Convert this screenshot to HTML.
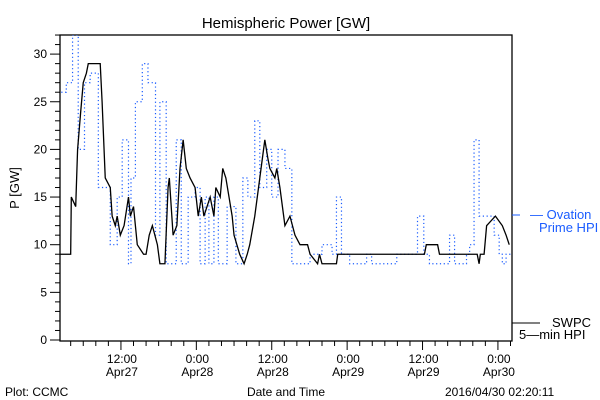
<!DOCTYPE html>
<html><head><meta charset="utf-8"><style>
body{margin:0;background:#fff;}
svg{display:block;font-family:"Liberation Sans",sans-serif;}
</style></head><body>
<svg id="c" width="600" height="400" viewBox="0 0 600 400">
<text x="286" y="28" font-size="15" text-anchor="middle">Hemispheric Power [GW]</text>
<text transform="translate(19,188) rotate(-90)" font-size="13" text-anchor="middle">P [GW]</text>
<text x="5" y="396" font-size="12">Plot: CCMC</text>
<text x="286" y="396" font-size="12" text-anchor="middle">Date and Time</text>
<text x="445" y="396" font-size="12">2016/04/30 02:20:11</text>
<g id="axes"></g>
<g id="series"></g>
<line x1="512" y1="215" x2="520" y2="215" stroke="#1a5cff"/>
<text x="530" y="219" font-size="13" fill="#1a5cff">— Ovation</text>
<text x="539" y="232" font-size="13" fill="#1a5cff">Prime HPI</text>
<line x1="512" y1="323" x2="540" y2="323" stroke="#000"/>
<text x="552" y="327" font-size="13">SWPC</text>
<text x="519" y="339" font-size="13">5—min HPI</text>
</svg>
<script>
const swpcHours=[0,2.1,2.2,2.9,3.2,3.7,4.1,4.6,4.9,6.8,7.1,7.6,8.4,8.7,9.2,9.5,10.0,10.6,11.3,11.6,12.1,12.7,13.7,14.1,14.6,15.1,15.9,16.3,17.1,17.6,17.8,18.4,19.0,19.5,20.0,20.5,21.1,21.9,22.4,22.9,23.3,24.3,24.9,25.2,25.9,26.3,26.8,27.3,27.8,28.1,29.0,29.7,30.2,30.6,31.4,32.2,33.0,33.5,33.8,34.6,34.9,35.4,36.2,37.0,37.8,38.6,39.8,40.2,41.4,41.7,42.1,44.4,44.6,58.4,58.7,60.5,60.8,66.8,67.1,67.3,67.9,68.3,69.7,70.8,71.4,71.9];
const swpcValues=[9,9,15,14,20,24,27,28,29,29,25,17,16,13,12,13,11,12,15,13,14,10,9,9,11,12,10,8,8,16,17,11,12,18,21,18,17,16,13,15,13,15,13,16,15,18,17,15,13,11,9,8,9,10,13,17,21,19,18,17,18,16,12,13,11,10,10,9,8,9,8,8,9,9,10,10,9,9,8,9,9,12,13,12,11,10];
const ovHours=[0,1.4,2.4,3.3,4.3,5.2,6.5,8.4,9.5,10.3,11.3,11.7,12.4,13.5,14.4,15.6,16.3,17.3,18.9,19.7,20.8,21.9,22.7,23.5,24.1,24.9,25.6,27.0,28.4,29.5,30.3,31.4,32.2,33.3,34.1,35.1,36.2,37.3,40.2,42.1,43.7,44.4,45.2,46.5,49.2,50.0,54.0,57.3,58.3,59.2,62.4,63.2,65.1,65.6,66.3,67.1,69.5,70.3,70.8,71.4];
const ovValues=[26,27,32,20,27,28,16,10,15,21,8,17,25,29,27,11,25,8,21,8,15,16,8,15,8,15,8,14,8,17,15,23,16,20,15,20,18,8,9,10,9,15,9,8,9,8,9,13,9,8,11,8,9,10,21,13,11,9,8,9];
const yTicks=[0,5,10,15,20,25,30];
const xTickHours=[10.1,22.1,34.1,46.1,58.1,70.1];
const xTickLabels=[["12:00","Apr27"],["0:00","Apr28"],["12:00","Apr28"],["0:00","Apr29"],["12:00","Apr29"],["0:00","Apr30"]];
const tEnd=72.1, yMax=32;
const L=60,R=512,T=35,B=341;
const X=t=>L+(t-0.4)*6.283;
const Y=v=>340-v*9.53;
const NS="http://www.w3.org/2000/svg";
const ax=document.getElementById('axes'), se=document.getElementById('series');
function mk(tag,at,parent){const e=document.createElementNS(NS,tag);for(const k in at)e.setAttribute(k,at[k]);parent.appendChild(e);return e;}
const fr=mk('rect',{x:L,y:T,width:R-L,height:B-T,fill:'none',stroke:'#000','stroke-width':1.3},ax);


for(let v=0;v<=yMax;v++){
  const maj=v%5===0;
  const tk=mk('line',{x1:maj?L-10:L-5,x2:L,y1:Y(v),y2:Y(v),stroke:'#000'},ax);
  
  
}
yTicks.forEach(v=>{
  const t=mk('text',{x:L-13,y:Y(v)+4,'font-size':12,'text-anchor':'end'},ax);t.textContent=v;
  
  
});
for(let h=0.1;h<=tEnd;h+=2){
  const x=X(h); if(x<L||x>R)continue;
  const maj=xTickHours.some(m=>Math.abs(m-h)<0.01);
  const tk=mk('line',{x1:x,x2:x,y1:B,y2:maj?B+9:B+5,stroke:'#000'},ax);
  
  
}
xTickHours.forEach((h,i)=>{
  const g=mk('text',{x:X(h)+1,'font-size':12,'text-anchor':'middle'},ax);
  
  
  const a=mk('tspan',{x:X(h)+1,y:363},g);a.textContent=xTickLabels[i][0];
  const b=mk('tspan',{x:X(h)+1,y:376},g);b.textContent=xTickLabels[i][1];
});
mk('clipPath',{id:'pc'},se).appendChild(Object.assign(document.createElementNS(NS,'rect'),{})).setAttribute('x',L);
const cr=se.querySelector('clipPath rect');cr.setAttribute('y',T);cr.setAttribute('width',R-L);cr.setAttribute('height',B-T);
let d='';
ovHours.forEach((h,i)=>{const nx=i+1<ovHours.length?ovHours[i+1]:tEnd;d+=(i?'L':'M')+X(h)+','+Y(ovValues[i])+'L'+X(nx)+','+Y(ovValues[i]);});
const ov=mk('path',{d:d,fill:'none',stroke:'#1a5cff','stroke-width':1.2,'stroke-dasharray':'1.2,2.6','clip-path':'url(#pc)'},se);


const pts=swpcHours.map((h,i)=>X(h)+','+Y(swpcValues[i])).join(' ');
const sw=mk('polyline',{points:pts,fill:'none',stroke:'#000','stroke-width':1.3,'clip-path':'url(#pc)'},se);


</script>
</body></html>
